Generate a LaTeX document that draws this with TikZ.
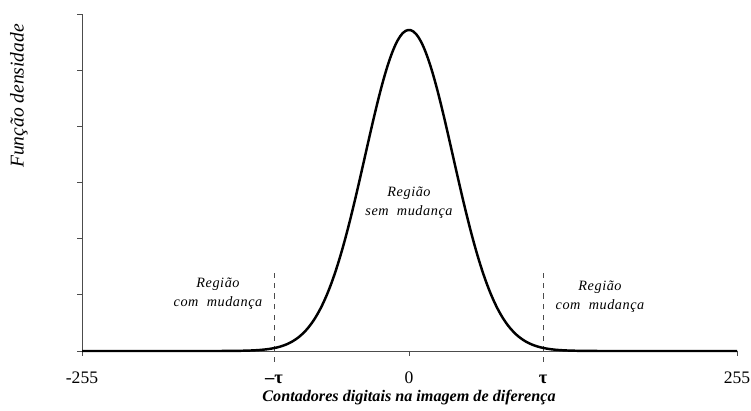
\documentclass[tikz,border=0pt]{standalone}
\usepackage{fontspec}
\setmainfont{Liberation Serif}
\newfontfamily\spacedfont[LetterSpace=4]{Liberation Serif}
\usetikzlibrary{positioning}

\begin{document}
\begin{tikzpicture}[x=0.02cm,y=0.02cm,
  axisline/.style={gray!60!black,line width=0.5pt},
  ticklabel/.style={font=\fontsize{10}{12}\selectfont},
  taulabel/.style={font=\bfseries\fontsize{10.5}{12}\selectfont},
  regionlabel/.style={font=\spacedfont\itshape\fontsize{8.1}{10}\selectfont,align=center,inner sep=0pt}]
\useasboundingbox (0,0) rectangle (751,411);

% eixos
\draw[axisline] (82,60) -- (737,60);
\draw[axisline] (82,60) -- (82,397);
\foreach \k in {0,...,6}
  \draw[axisline] (82,60+56.17*\k) -- ++(-5,0);
\foreach \x in {82,409,737}
  \draw[axisline] (\x,60) -- ++(0,-5);

% limiares
\draw[dashed,gray!60!black] (274,49) -- (274,138);
\draw[dashed,gray!60!black] (543,49) -- (543,138);

% curva
\draw[line width=1.4pt,line join=round] plot[domain=82:737,samples=250,smooth]
  (\x,{60+321*exp(-0.5*((\x-409)/44)^2)});

\node[ticklabel] (xmin) at (82,33) {-255};
\node[ticklabel] (xzero) at (409,33) {0};
\node[ticklabel] (xmax) at (737,33) {255};
\node[taulabel] (taumin) at (274,32) {–τ};
\node[taulabel] (taumax) at (543,32) {τ};

\node[font=\bfseries\itshape\fontsize{9.2}{11}\selectfont] (xtitle) at (409,13) {Contadores digitais na imagem de diferença};
\node[font=\itshape\fontsize{11.1}{13}\selectfont,rotate=90] (ytitle) at (19,315) {Função densidade};

\node[regionlabel] (semmud) at (409,208) {Região\\[1pt] sem\ \ mudança};
\node[regionlabel] (commudA) at (218,117) {Região\\[1pt] com\ \ mudança};
\node[regionlabel] (commudB) at (600,114) {Região\\[1pt] com\ \ mudança};
\end{tikzpicture}
\end{document}
